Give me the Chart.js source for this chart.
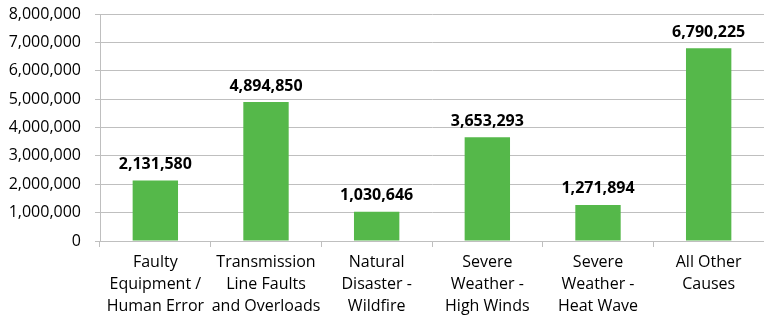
<!DOCTYPE html>
<html>
<head>
<meta charset="utf-8">
<script src="https://cdn.jsdelivr.net/npm/chart.js@4"></script>
<style>
  html, body { margin: 0; padding: 0; background: #fff; }
  #wrap { width: 764px; height: 316px; }
</style>
</head>
<body>
<div id="wrap"><canvas id="myChart"></canvas></div>
<script>
const categories = [
    ['Faulty', 'Equipment /', 'Human Error'],
    ['Transmission', 'Line Faults', 'and Overloads'],
    ['Natural', 'Disaster -', 'Wildfire'],
    ['Severe', 'Weather -', 'High Winds'],
    ['Severe', 'Weather -', 'Heat Wave'],
    ['All Other', 'Causes']
];

const customers = [2131580, 4894850, 1030646, 3653293, 1271894, 6790225];

const yTicks = [0, 1000000, 2000000, 3000000, 4000000, 5000000, 6000000, 7000000, 8000000];

const fontFamily = "'Open Sans', 'Liberation Sans', sans-serif";

// draws the value above each bar
const barLabels = {
    id: 'barLabels',
    afterDatasetsDraw(chart) {
        const ctx = chart.ctx;
        const meta = chart.getDatasetMeta(0);
        ctx.save();
        ctx.font = 'bold 16px ' + fontFamily;
        ctx.fillStyle = '#000';
        ctx.textAlign = 'center';
        ctx.textBaseline = 'bottom';
        meta.data.forEach((bar, i) => {
            ctx.fillText(customers[i].toLocaleString('en-US'), bar.x, bar.y - 8);
        });
        ctx.restore();
    }
};

const data = {
    labels: categories,
    datasets: [{
        data: customers,
        backgroundColor: '#55b84a',
        categoryPercentage: 1,
        barPercentage: 0.41
    }]
};

const config = {
    type: 'bar',
    data,
    plugins: [barLabels],
    options: {
        responsive: true,
        maintainAspectRatio: false,
        animation: false,
        layout: { padding: { top: 14, right: 0, left: 0, bottom: 0 } },
        plugins: {
            legend: { display: false },
            tooltip: { enabled: false }
        },
        scales: {
            x: {
                grid: {
                    drawOnChartArea: false,
                    color: '#bfbfbf',
                    tickLength: 6,
                    offset: true
                },
                border: { color: '#bfbfbf' },
                ticks: {
                    color: '#000',
                    maxRotation: 0,
                    autoSkip: false,
                    font: { family: fontFamily, size: 16, lineHeight: 1.35 },
                    padding: 5
                },
                afterFit(scale) { scale.height = 75; }
            },
            y: {
                min: 0,
                max: 8000000,
                afterBuildTicks(scale) {
                    scale.ticks = yTicks.map(v => ({ value: v }));
                },
                grid: {
                    color: '#bfbfbf',
                    tickLength: 5
                },
                border: { color: '#bfbfbf' },
                ticks: {
                    color: '#000',
                    font: { family: fontFamily, size: 16 },
                    padding: 14,
                    callback: v => v.toLocaleString('en-US')
                },
                afterFit(scale) {
                    scale.width = 100;
                    scale.paddingTop = 0;
                    scale.paddingBottom = 0;
                }
            }
        }
    }
};

var myChart = new Chart(document.getElementById('myChart'), config);
</script>
</body>
</html>
